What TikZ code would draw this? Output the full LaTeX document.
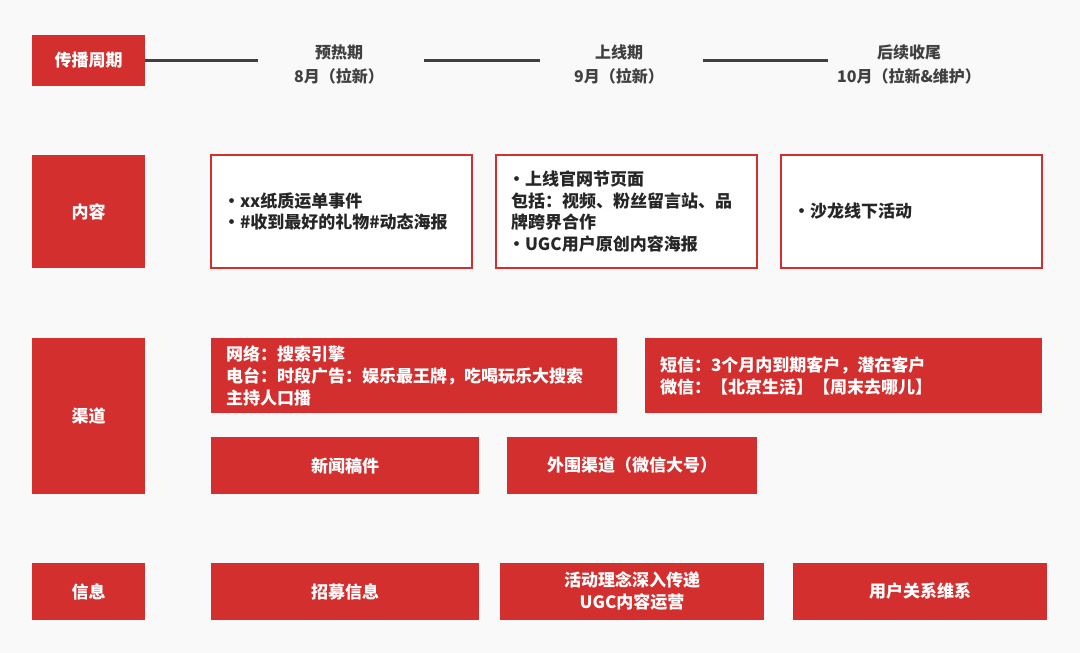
\documentclass[tikz,border=0pt]{standalone}
\usepackage{fontspec}
\setmainfont{Noto Sans CJK SC}
\usetikzlibrary{positioning}
\definecolor{myred}{RGB}{211,47,47}
\definecolor{mybg}{RGB}{249,249,249}
\definecolor{mydark}{RGB}{38,38,38}
\definecolor{myline}{RGB}{64,64,64}
\newcommand{\bul}{\makebox[14pt][l]{\hspace{-3pt}•}}

\begin{document}
\begin{tikzpicture}[x=1pt, y=-1pt,
    tag/.style={fill=myred, text=white, inner sep=0pt, align=center,
        font=\bfseries\fontsize{17}{22}\selectfont},
    redbox/.style={fill=myred, text=white, inner sep=0pt, inner xsep=15pt,
        align=left, font=\bfseries\fontsize{17}{22}\selectfont},
    card/.style={draw=myred, line width=2.5pt, fill=white, inner sep=0pt,
        inner xsep=15pt, align=left, text=mydark,
        font=\bfseries\fontsize{17}{21.5}\selectfont},
    phase/.style={align=center, text=myline, inner sep=0pt,
        font=\bfseries\fontsize{16}{24}\selectfont},
    track/.style={line width=2.5pt, myline}
]
\fill[mybg] (0,0) rectangle (1080,653);

% row labels
\node[tag, minimum width=113pt, minimum height=51pt] (cycle) at (88.5,60.5) {传播周期};
\node[tag, minimum width=113pt, minimum height=113pt] (content) at (88.5,211.5) {内容};
\node[tag, minimum width=113pt, minimum height=156pt] (channel) at (88.5,416) {渠道};
\node[tag, minimum width=113pt, minimum height=57pt] (info) at (88.5,591.5) {信息};

% timeline
\node[phase] (warm) at (339,64) {预热期\\8月（拉新）};
\node[phase] (launch) at (619,64) {上线期\\9月（拉新）};
\node[phase] (tail) at (909,64) {后续收尾\\10月（拉新\&维护）};
\coordinate (t1) at (258,60.5);
\coordinate (t2a) at (424,60.5);
\coordinate (t2b) at (540,60.5);
\coordinate (t3a) at (703,60.5);
\coordinate (t3b) at (828,60.5);
\draw[track] (cycle.east) -- (t1);
\draw[track] (t2a) -- (t2b);
\draw[track] (t3a) -- (t3b);

% content
\node[card, text width=231pt, minimum height=113pt] (c1) at (341.5,211.5)
    {\bul xx纸质运单事件\\\bul\#收到最好的礼物\#动态海报};
\node[card, text width=231pt, minimum height=113pt] (c2) at (626.5,211.5)
    {\bul 上线官网节页面\\包括：视频、粉丝留言站、品\\牌跨界合作\\\bul UGC用户原创内容海报};
\node[card, text width=231pt, minimum height=113pt] (c3) at (911.5,211.5)
    {\bul 沙龙线下活动};

% channels
\node[redbox, text width=376pt, minimum height=75pt] (net) at (414,375.5)
    {网络：搜索引擎\\电台：时段广告：娱乐最王牌，吃喝玩乐大搜索\\主持人口播};
\node[redbox, text width=367pt, minimum height=75pt] (sms) at (843.5,375.5)
    {短信：3个月内到期客户，潜在客户\\微信：【北京生活】【周末去哪儿】};
\node[tag, minimum width=268pt, minimum height=57pt] (news) at (345,465.5) {新闻稿件};
\node[tag, minimum width=250pt, minimum height=57pt] (wechat) at (632,465.5) {外围渠道（微信大号）};

% info
\node[tag, minimum width=268pt, minimum height=57pt] (recruit) at (345,591.5) {招募信息};
\node[tag, minimum width=264pt, minimum height=57pt] (idea) at (632,591.5) {活动理念深入传递\\UGC内容运营};
\node[tag, minimum width=254pt, minimum height=57pt] (keep) at (920,591.5) {用户关系维系};
\end{tikzpicture}
\end{document}
